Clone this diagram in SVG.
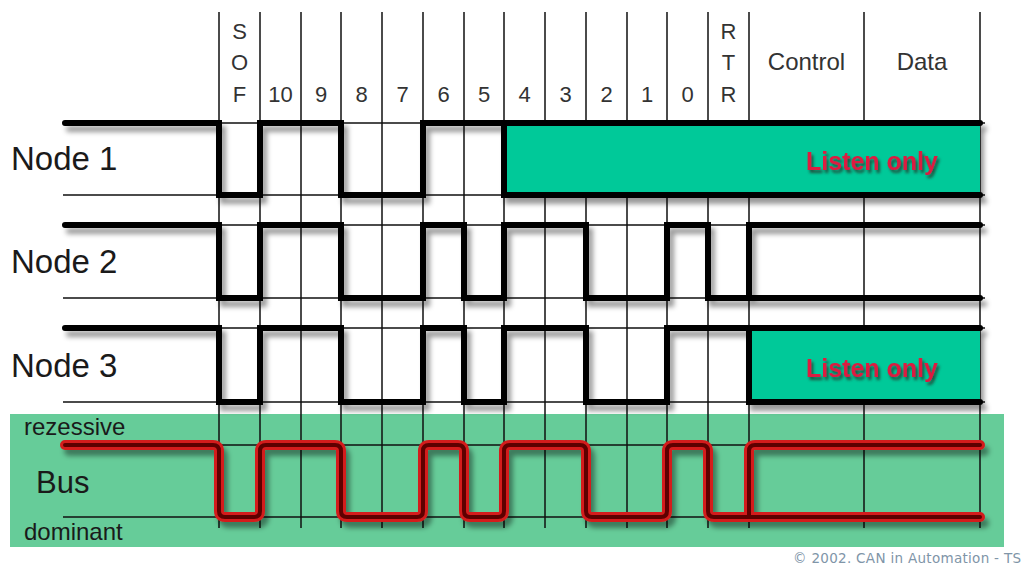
<svg xmlns="http://www.w3.org/2000/svg" width="1025" height="568" viewBox="0 0 1025 568">
<style>
.bg{fill:#ffffff}
.grid{stroke:#111;stroke-width:1.5;fill:none}
.sig{stroke:#000;stroke-width:6;fill:none;stroke-linejoin:miter;stroke-linecap:round}
.hdr{font-family:"Liberation Sans",Arial,sans-serif;font-size:22px;fill:#333;text-anchor:middle}
.hdr2{font-family:"Liberation Sans",Arial,sans-serif;font-size:24px;fill:#333;text-anchor:middle}
.node{font-family:"Liberation Sans",Arial,sans-serif;font-size:33px;fill:#1a1a1a}
.small{font-family:"Liberation Sans",Arial,sans-serif;font-size:24px;fill:#1a1a1a}
.listen{font-family:"Liberation Sans",Arial,sans-serif;font-size:25px;font-weight:bold;fill:#dc1a40}
.busout{stroke:#d41e1e;stroke-width:10;fill:none;stroke-linecap:round;stroke-linejoin:round}
.busin{stroke:#5e0000;stroke-width:4;fill:none;stroke-linecap:round;stroke-linejoin:round}
.copy{font-family:"DejaVu Sans","Liberation Sans",sans-serif;font-size:13.5px;fill:#8095a8}
</style>
<defs>
<filter id="sh" x="-5%" y="-30%" width="115%" height="170%">
<feDropShadow dx="4" dy="6" stdDeviation="2.5" flood-color="#000" flood-opacity="0.4"/>
</filter>
<filter id="tsh" x="-10%" y="-30%" width="130%" height="170%">
<feDropShadow dx="2" dy="3" stdDeviation="1.5" flood-color="#300" flood-opacity="0.6"/>
</filter>
</defs>
<rect class="bg" x="0" y="0" width="1025" height="568"/>
<rect id="busband" x="10" y="414" width="994" height="133" fill="#66cc99"/>
<g id="grid" class="grid">
<path d="M219,12V528M260,12V528M301,12V528M341,12V528M382,12V528M423,12V528M464,12V528M504,12V528M545,12V528M586,12V528M627,12V528M667,12V528M708,12V528M749,12V528M864,12V528M980,12V528"/>
<path d="M63,123H985M63,195H985M63,225H985M63,298H985M63,328H985M63,402H985M219,445H980M63,517H980"/>
</g>
<g id="header">
<text class="hdr" x="239.5" y="39">S</text>
<text class="hdr" x="239.5" y="70">O</text>
<text class="hdr" x="239.5" y="102">F</text>
<text class="hdr" x="280.5" y="102">10</text>
<text class="hdr" x="321" y="102">9</text>
<text class="hdr" x="361.5" y="102">8</text>
<text class="hdr" x="402.5" y="102">7</text>
<text class="hdr" x="443.5" y="102">6</text>
<text class="hdr" x="484" y="102">5</text>
<text class="hdr" x="524.5" y="102">4</text>
<text class="hdr" x="565.5" y="102">3</text>
<text class="hdr" x="606.5" y="102">2</text>
<text class="hdr" x="647" y="102">1</text>
<text class="hdr" x="687.5" y="102">0</text>
<text class="hdr" x="728.5" y="39">R</text>
<text class="hdr" x="728.5" y="70">T</text>
<text class="hdr" x="728.5" y="102">R</text>
<text class="hdr2" x="806.5" y="70">Control</text>
<text class="hdr2" x="922" y="70">Data</text>
</g>
<g id="node1">
<text class="node" x="11" y="170">Node 1</text>
<g filter="url(#sh)">
<rect x="504" y="123" width="476" height="72" fill="#00c999"/>
<path class="sig" d="M65,123H219V195H260V123H341V195H423V123H504V195H980M504,123H980"/>
</g>
<text class="listen" x="806" y="170" filter="url(#tsh)">Listen only</text>
</g>
<g id="node2">
<text class="node" x="11" y="273">Node 2</text>
<g filter="url(#sh)">
<path class="sig" d="M65,225H219V298H260V225H341V298H423V225H464V298H504V225H586V298H667V225H708V298H980M749,298V225H980"/>
</g>
</g>
<g id="node3">
<text class="node" x="11" y="377">Node 3</text>
<g filter="url(#sh)">
<rect x="749" y="328" width="231" height="74" fill="#00c999"/>
<path class="sig" d="M65,328H219V402H260V328H341V402H423V328H464V402H504V328H586V402H667V328H749V402H980M749,328H980"/>
</g>
<text class="listen" x="806" y="377" filter="url(#tsh)">Listen only</text>
</g>
<g id="bus">
<text class="small" x="24" y="435">rezessive</text>
<text class="node" x="36" y="493" style="font-size:31px">Bus</text>
<text class="small" x="24" y="540">dominant</text>
<g filter="url(#sh)">
<path class="busout" d="M65,445H213Q219,445 219,451V511Q219,517 225,517H254Q260,517 260,511V451Q260,445 266,445H335Q341,445 341,451V511Q341,517 347,517H417Q423,517 423,511V451Q423,445 429,445H458Q464,445 464,451V511Q464,517 470,517H498Q504,517 504,511V451Q504,445 510,445H580Q586,445 586,451V511Q586,517 592,517H661Q667,517 667,511V451Q667,445 673,445H702Q708,445 708,451V511Q708,517 714,517H980M749,517V451Q749,445 755,445H980"/>
</g>
<path class="busin" d="M65,445H213Q219,445 219,451V511Q219,517 225,517H254Q260,517 260,511V451Q260,445 266,445H335Q341,445 341,451V511Q341,517 347,517H417Q423,517 423,511V451Q423,445 429,445H458Q464,445 464,451V511Q464,517 470,517H498Q504,517 504,511V451Q504,445 510,445H580Q586,445 586,451V511Q586,517 592,517H661Q667,517 667,511V451Q667,445 673,445H702Q708,445 708,451V511Q708,517 714,517H980M749,517V451Q749,445 755,445H980"/>
</g>
<text id="copyright" class="copy" x="793" y="563" textLength="228" lengthAdjust="spacing">© 2002. CAN in Automation - TS</text>
</svg>
